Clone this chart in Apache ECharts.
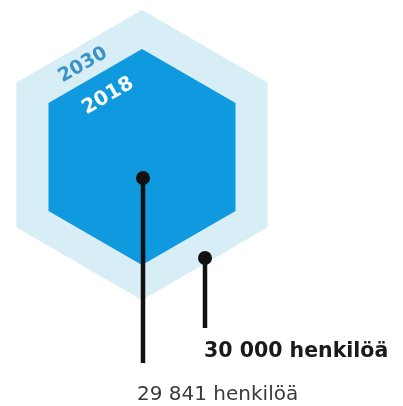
<!DOCTYPE html>
<html>
<head>
<meta charset="utf-8">
<script src="https://cdn.jsdelivr.net/npm/echarts@6/dist/echarts.min.js"></script>
<style>
  html, body { margin: 0; padding: 0; background: #fff; }
  #main { width: 403px; height: 406px; }
</style>
</head>
<body>
<div id="main"></div>
<script>
  var years = ['2030', '2018'];
  var people = [30000, 29841];
  var unit = 'henkilöä';

  // sijoittelu: kuusikulmio, vuosiluku, pallo + viiva, teksti
  var layout = [
    { cx: 142, cy: 155, r: 145, fill: '#d7eef7', yearColor: '#3b92c8', yearX: 83, yearY: 65, yearSize: 19,
      dotX: 205, dotY: 258, lineEnd: 328, labelX: 204, labelY: 352, labelSize: 20.5, bold: true },
    { cx: 142, cy: 157, r: 108, fill: '#0f99df', yearColor: '#ffffff', yearX: 108, yearY: 96, yearSize: 20,
      dotX: 143, dotY: 178, lineEnd: 363, labelX: 137, labelY: 395, labelSize: 20, bold: false }
  ];

  function fmt(n) {
    return String(n).replace(/\B(?=(\d{3})+(?!\d))/g, ' ');
  }

  function hexPoints(cx, cy, r) {
    var pts = [];
    for (var k = 0; k < 6; k++) {
      var a = -Math.PI / 2 + k * Math.PI / 3;
      pts.push([cx + r * Math.cos(a), cy + r * Math.sin(a)]);
    }
    return pts;
  }

  var seriesData = years.map(function (y, i) {
    return { name: y, value: people[i] };
  });

  var option = {
    animation: false,
    series: [{
      type: 'custom',
      coordinateSystem: 'none',
      data: seriesData,
      renderItem: function (params, api) {
        var l = layout[params.dataIndex];
        return {
          type: 'group',
          children: [{
            type: 'polygon',
            shape: { points: hexPoints(l.cx, l.cy, l.r) },
            style: { fill: l.fill }
          }, {
            type: 'text',
            x: l.yearX,
            y: l.yearY,
            rotation: Math.PI / 6,
            style: {
              text: years[params.dataIndex],
              fill: l.yearColor,
              fontSize: l.yearSize,
              fontWeight: 'bold',
              fontFamily: 'DejaVu Sans',
              align: 'center',
              verticalAlign: 'middle'
            }
          }]
        };
      }
    }, {
      type: 'custom',
      coordinateSystem: 'none',
      data: seriesData,
      renderItem: function (params, api) {
        var l = layout[params.dataIndex];
        return {
          type: 'group',
          children: [{
            type: 'line',
            shape: { x1: l.dotX, y1: l.dotY, x2: l.dotX, y2: l.lineEnd },
            style: { stroke: '#111', lineWidth: 4.5 }
          }, {
            type: 'circle',
            shape: { cx: l.dotX, cy: l.dotY, r: 7 },
            style: { fill: '#111' }
          }, {
            type: 'text',
            x: l.labelX,
            y: l.labelY,
            style: {
              text: fmt(api.value(0)) + ' ' + unit,
              fill: l.bold ? '#1a1a1a' : '#3a3a3a',
              fontSize: l.labelSize,
              fontWeight: l.bold ? 'bold' : 'normal',
              fontFamily: 'DejaVu Sans',
              align: 'left',
              verticalAlign: 'middle'
            }
          }]
        };
      }
    }]
  };

  echarts.init(document.getElementById('main')).setOption(option);
</script>
</body>
</html>
